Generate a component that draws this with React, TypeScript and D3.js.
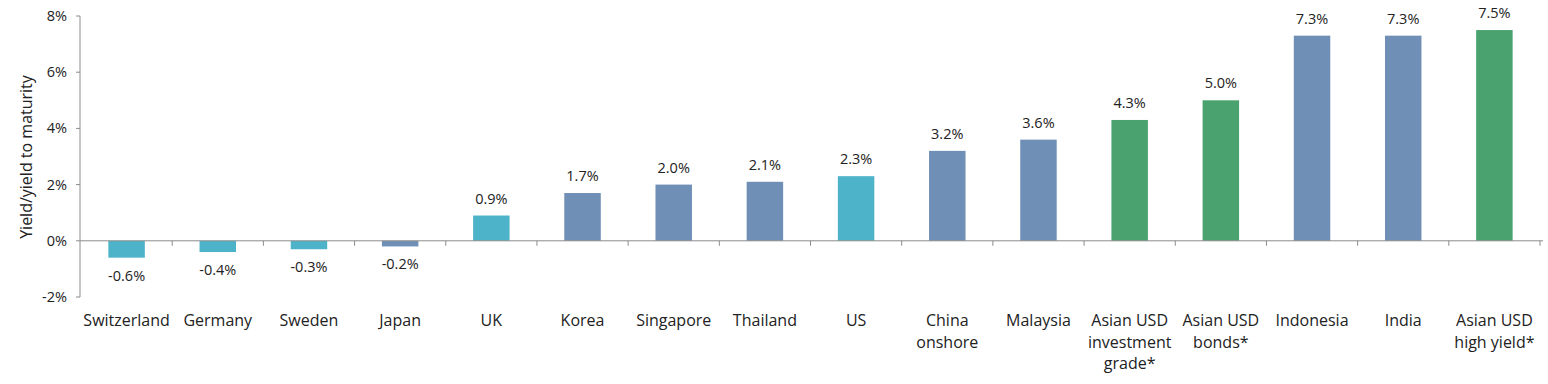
import * as d3 from 'd3';

const categories = [
  ['Switzerland'], ['Germany'], ['Sweden'], ['Japan'], ['UK'], ['Korea'],
  ['Singapore'], ['Thailand'], ['US'], ['China', 'onshore'], ['Malaysia'],
  ['Asian USD', 'investment', 'grade*'], ['Asian USD', 'bonds*'],
  ['Indonesia'], ['India'], ['Asian USD', 'high yield*'],
];
const values = [-0.6, -0.4, -0.3, -0.2, 0.9, 1.7, 2.0, 2.1, 2.3, 3.2, 3.6, 4.3, 5.0, 7.3, 7.3, 7.5];
const groups = ['dm', 'dm', 'dm', 'asia', 'dm', 'asia', 'asia', 'asia', 'dm', 'asia', 'asia', 'usd', 'usd', 'asia', 'asia', 'usd'];
const yTicks = [-2, 0, 2, 4, 6, 8];

const colors: Record<string, string> = { dm: '#4db3c9', asia: '#6f8fb6', usd: '#4aa36e' };

const W = 1548;
const H = 384;
const font = "'Open Sans', sans-serif";

export default function App() {
  const x = d3.scaleBand<number>().domain(d3.range(values.length)).range([81, 1540]).paddingInner(0.6).paddingOuter(0.3);
  const step = x.step();
  const y = d3.scaleLinear().domain([-2, 8]).range([297, 16]);
  const y0 = y(0);
  const left = 80;

  return (
    <svg width={W} height={H} style={{ position: 'absolute', left: 0, top: 0 }} fontFamily={font}>
      {/* y axis */}
      <line x1={left} x2={left} y1={y(8)} y2={y(-2)} stroke="#8c8c8c" />
      {yTicks.map((t) => (
        <g key={t}>
          <line x1={left - 4} x2={left} y1={y(t)} y2={y(t)} stroke="#8c8c8c" />
          <text x={67} y={y(t)} dy="0.35em" textAnchor="end" fontSize={14.5} fill="#222">
            {t}%
          </text>
        </g>
      ))}
      <text transform="translate(32, 157) rotate(-90)" textAnchor="middle" fontSize={16} fill="#222">
        Yield/yield to maturity
      </text>

      {/* bars */}
      {values.map((v, i) => {
        const top = y(Math.max(v, 0));
        const bot = y(Math.min(v, 0));
        const cx = (x(i) as number) + x.bandwidth() / 2;
        return (
          <g key={i}>
            <rect x={x(i)} y={top} width={x.bandwidth()} height={bot - top} fill={colors[groups[i]]} />
            <text x={cx} y={v >= 0 ? top - 12 : bot + 23} textAnchor="middle" fontSize={14.5} fill="#222">
              {v.toFixed(1)}%
            </text>
          </g>
        );
      })}

      {/* zero line with ticks */}
      <line x1={left} x2={1543} y1={y0} y2={y0} stroke="#8c8c8c" />
      {d3.range(1, values.length + 1).map((k) => {
        const tx = 81 + k * step;
        return <line key={k} x1={tx} x2={tx} y1={y0} y2={y0 + 5} stroke="#8c8c8c" />;
      })}

      {/* category labels */}
      {categories.map((lines, i) => {
        const cx = (x(i) as number) + x.bandwidth() / 2;
        return (
          <text key={i} x={cx} y={326} textAnchor="middle" fontSize={16} fill="#222">
            {lines.map((l, j) => (
              <tspan key={j} x={cx} dy={j === 0 ? 0 : 21.5}>{l}</tspan>
            ))}
          </text>
        );
      })}
    </svg>
  );
}
